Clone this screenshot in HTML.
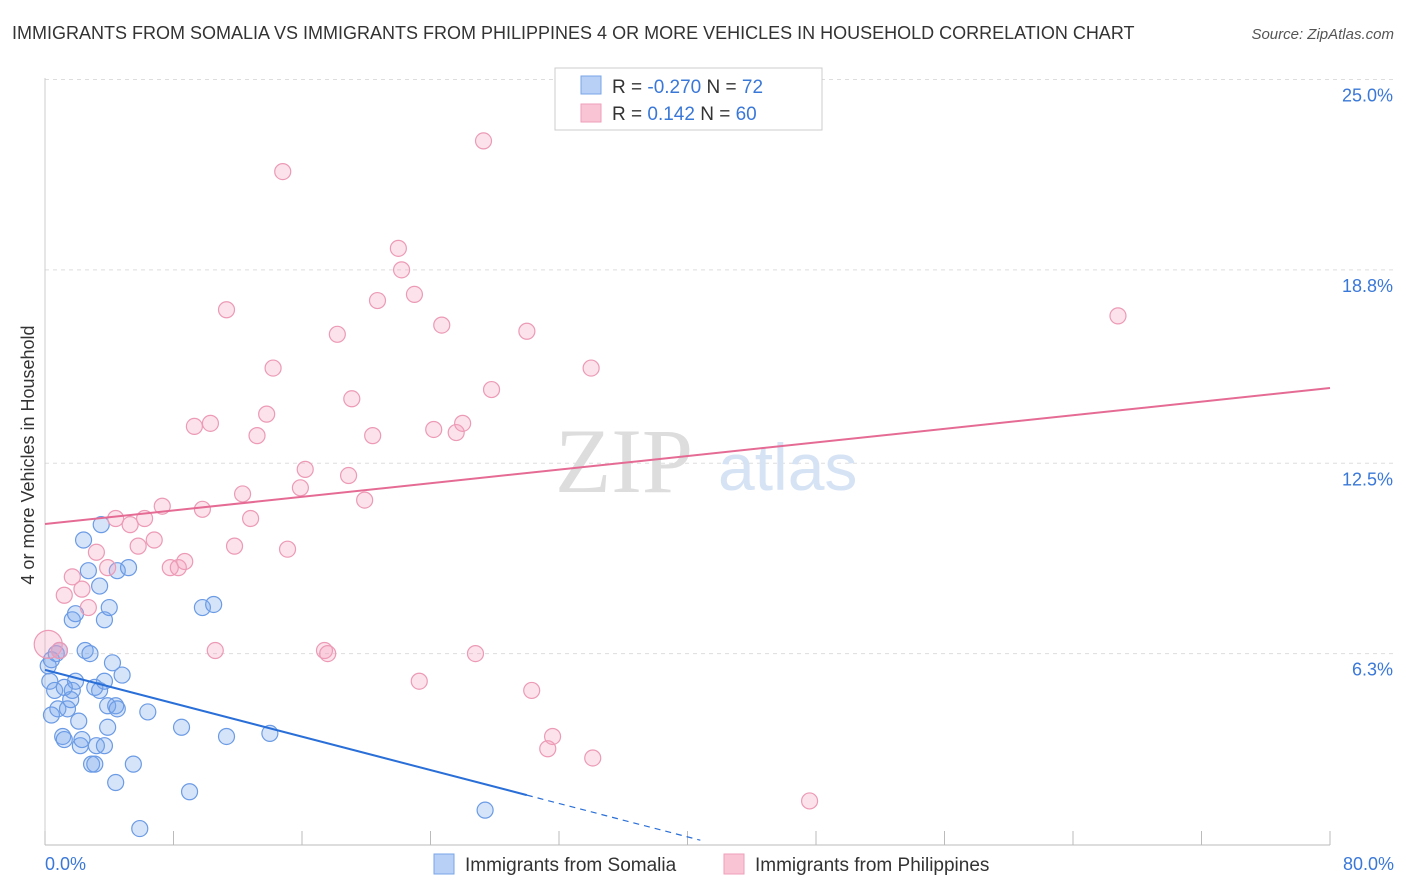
<!DOCTYPE html>
<html><head><meta charset="utf-8"><style>
body{margin:0;background:#fff;font-family:"Liberation Sans",sans-serif;}
svg{display:block}
</style></head><body>
<svg id="chart" width="1406" height="892">
<text x="12" y="39" font-size="18" fill="#333">IMMIGRANTS FROM SOMALIA VS IMMIGRANTS FROM PHILIPPINES 4 OR MORE VEHICLES IN HOUSEHOLD CORRELATION CHART</text>
<text x="1394" y="39" font-size="15" fill="#555" font-style="italic" text-anchor="end">Source: ZipAtlas.com</text>
<g id="grid"></g>
<text x="555" y="492" font-size="92" fill="#ddd" font-family="Liberation Serif,serif">ZIP</text>
<text x="718" y="490" font-size="66" fill="#d6e3f5">atlas</text>
<g id="marks"></g>
<text transform="translate(34,455) rotate(-90)" font-size="18" fill="#333" text-anchor="middle">4 or more Vehicles in Household</text>
<text x="45" y="870" font-size="18" fill="#3a78d8">0.0%</text>
<text x="1394" y="870" font-size="18" fill="#3a78d8" text-anchor="end">80.0%</text>
<g>
<rect x="555" y="68" width="267" height="62" fill="#fff" stroke="#ccc"/>
<rect x="581" y="76" width="20" height="18" fill="#b8d0f5" stroke="#7aa5e8"/>
<rect x="581" y="104" width="20" height="18" fill="#f9c5d5" stroke="#ef9fba"/>
<text x="612" y="93" font-size="19" fill="#333">R = <tspan fill="#3a78d8">-0.270</tspan>   N = <tspan fill="#3a78d8">72</tspan></text>
<text x="612" y="120" font-size="19" fill="#333">R =    <tspan fill="#3a78d8">0.142</tspan>   N = <tspan fill="#3a78d8">60</tspan></text>
</g>
<g>
<rect x="434" y="854" width="20" height="20" fill="#b8d0f5" stroke="#7aa5e8"/>
<text x="465" y="871" font-size="19" fill="#333">Immigrants from Somalia</text>
<rect x="724" y="854" width="20" height="20" fill="#f9c5d5" stroke="#ef9fba"/>
<text x="755" y="871" font-size="19" fill="#333">Immigrants from Philippines</text>
</g>
</svg>
<script>
const yTicks=[6.3,12.5,18.8,25.0];
const xTickVals=[0,8,16,24,32,40,48,56,64,72,80];
const somaliaX=[0.2,0.4,0.7,0.9,0.3,0.6,0.4,0.8,1.1,1.2,1.4,1.6,1.7,1.9,2.1,2.2,2.3,2.5,2.7,2.8,2.9,3.1,3.2,3.4,3.4,3.5,3.7,3.7,3.9,3.9,4.0,4.2,4.4,4.5,4.5,4.8,5.2,5.5,4.4,5.9,6.4,8.5,9.0,9.8,10.5,11.3,14.0,27.4,2.4,1.7,1.9,3.1,1.2,3.7];
const somaliaY=[5.9,6.1,6.3,6.4,5.4,5.1,4.3,4.5,3.6,3.5,4.5,4.8,5.1,5.4,4.1,3.3,3.5,6.4,9.0,6.3,2.7,2.7,3.3,5.1,8.5,10.5,7.4,3.3,4.6,3.9,7.8,6.0,4.6,9.0,4.5,5.6,9.1,2.7,2.1,0.6,4.4,3.9,1.8,7.8,7.9,3.6,3.7,1.2,10.0,7.4,7.6,5.2,5.2,5.4];
const philX=[0.2,0.9,1.2,1.7,2.3,2.7,3.2,3.9,4.4,5.3,5.8,6.2,6.8,7.3,7.8,8.3,8.7,9.3,9.8,10.3,10.6,11.3,11.8,12.3,12.8,13.2,13.8,14.2,14.8,15.1,15.9,16.2,17.4,17.6,18.2,18.9,19.1,19.9,20.4,20.7,22.0,22.2,23.0,23.3,24.2,24.7,25.6,26.0,26.8,27.3,27.8,30.0,30.3,31.3,31.6,34.0,34.1,47.6,66.8];
const philY=[6.6,6.4,8.2,8.8,8.4,7.8,9.6,9.1,10.7,10.5,9.8,10.7,10.0,11.1,9.1,9.1,9.3,13.7,11.0,13.8,6.4,17.5,9.8,11.5,10.7,13.4,14.1,15.6,22.0,9.7,11.7,12.3,6.4,6.3,16.7,12.1,14.6,11.3,13.4,17.8,19.5,18.8,18.0,5.4,13.6,17.0,13.5,13.8,6.3,23.0,14.9,16.8,5.1,3.2,3.6,15.6,2.9,1.5,17.3];
const somaliaTrend=[5.77,1.69];
const somaliaTrendEnd=40.8;
const philTrend=[10.52,14.95];
const NS="http://www.w3.org/2000/svg";
const X=v=>45+v/80*1285, Y=v=>847-v*30.7;
const grid=document.getElementById('grid'), marks=document.getElementById('marks');
function mk(tag,attrs,parent){const e=document.createElementNS(NS,tag);for(const k in attrs)e.setAttribute(k,attrs[k]);parent.appendChild(e);return e;}
yTicks.forEach(t=>{
 const l=mk('line',{x1:45,x2:1394,y1:Y(t),y2:Y(t),stroke:'#ddd','stroke-dasharray':'4,4'},grid);
 
 
 const tx=mk('text',{x:1393,y:Y(t)+22,'font-size':18,fill:'#3a78d8','text-anchor':'end'},grid);
 tx.textContent=t.toFixed(1)+'%';
 
 
});
const ax=mk('line',{x1:45,x2:1330,y1:845,y2:845,stroke:'#bbb'},grid);


const ay=mk('line',{x1:45,x2:45,y1:78,y2:845,stroke:'#ccc'},grid);


xTickVals.forEach(t=>{
 const l=mk('line',{x1:X(t),x2:X(t),y1:831,y2:845,stroke:'#bbb'},grid);
 
 
});
somaliaX.forEach((v,i)=>{
 const c=mk('circle',{cx:X(v),cy:Y(somaliaY[i]),r:8,fill:'rgba(120,165,235,0.3)',stroke:'#6b9be5','stroke-width':1.2},marks);
 
 
});
philX.forEach((v,i)=>{
 const c=mk('circle',{cx:X(v),cy:Y(philY[i]),r:i===0?14:8,fill:'rgba(245,160,190,0.3)',stroke:'#ec9ab5','stroke-width':1.2},marks);
 
 
});
const sl=v=>somaliaTrend[0]+(somaliaTrend[1]-somaliaTrend[0])*v/30;
const t1=mk('line',{x1:X(0),y1:Y(sl(0)),x2:X(30),y2:Y(sl(30)),stroke:'#2a6fd8','stroke-width':2},marks);


const t2=mk('line',{x1:X(30),y1:Y(sl(30)),x2:X(somaliaTrendEnd),y2:Y(sl(somaliaTrendEnd)),stroke:'#2a6fd8','stroke-width':1.2,'stroke-dasharray':'6,5'},marks);


const t3=mk('line',{x1:X(0),y1:Y(philTrend[0]),x2:X(80),y2:Y(philTrend[1]),stroke:'#e56b95','stroke-width':2},marks);


</script>
</body></html>
